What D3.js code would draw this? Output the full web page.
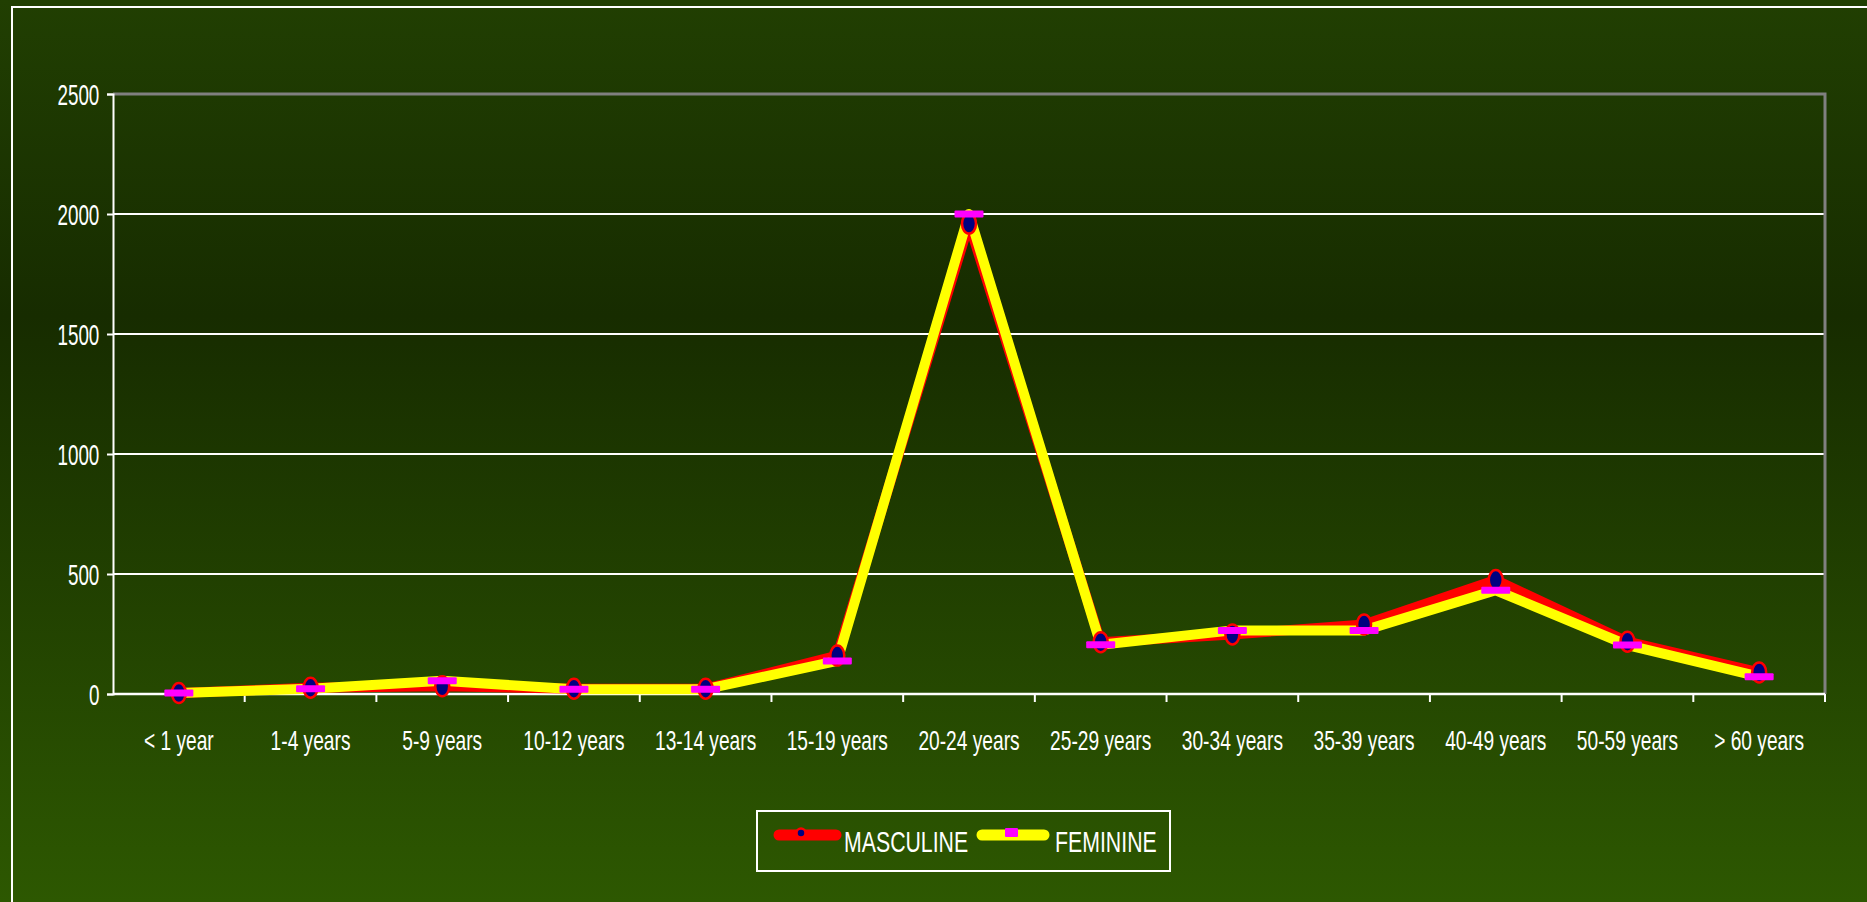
<!DOCTYPE html>
<html>
<head>
<meta charset="utf-8">
<script src="https://cdn.jsdelivr.net/npm/d3@7"></script>
<style>
  html, body { margin: 0; padding: 0; overflow: hidden; }
  body { width: 1867px; height: 902px; }
  text { font-family: "Liberation Sans", Arial, sans-serif; fill: #ffffff; }
</style>
</head>
<body>
<svg id="chart" width="1867" height="902"></svg>
<script>
// age groups and counts
var categories = ["< 1 year", "1-4 years", "5-9 years", "10-12 years", "13-14 years",
  "15-19 years", "20-24 years", "25-29 years", "30-34 years", "35-39 years",
  "40-49 years", "50-59 years", "> 60 years"];
var masculine = [4, 26, 32, 22, 22, 160, 1960, 216, 248, 290, 475, 218, 90];
var feminine = [4, 22, 55, 20, 20, 138, 2000, 205, 265, 265, 432, 204, 72];
var yTicks = [0, 500, 1000, 1500, 2000, 2500];
var seriesNames = ["MASCULINE", "FEMININE"];

var svg = d3.select("#chart");
// note: "top" is a read-only window global, so use plot* names
var plotLeft = 113, plotRight = 1825, plotTop = 94, plotBottom = 694;

// page background gradient
var defs = svg.append("defs");
var grad = defs.append("linearGradient")
    .attr("id", "bg")
    .attr("x1", 0).attr("y1", 0).attr("x2", 0).attr("y2", 1);
grad.append("stop").attr("offset", "0%").attr("stop-color", "#213f02");
grad.append("stop").attr("offset", "35%").attr("stop-color", "#172c00");
grad.append("stop").attr("offset", "100%").attr("stop-color", "#2d5801");

svg.append("rect")
    .attr("width", 1867).attr("height", 902)
    .attr("fill", "url(#bg)");

// outer frame, runs off the right and bottom edge
svg.append("rect")
    .attr("x", 12).attr("y", 7)
    .attr("width", 1900).attr("height", 950)
    .attr("fill", "none")
    .attr("stroke", "#ffffff")
    .attr("stroke-width", 2);

var x = d3.scaleBand().domain(categories).range([plotLeft, plotRight]);
var y = d3.scaleLinear().domain([0, 2500]).range([plotBottom, plotTop]);

// gridlines
svg.append("g")
  .selectAll("line")
  .data(yTicks.filter(function(d) { return d > 0 && d < 2500; }))
  .enter().append("line")
    .attr("x1", plotLeft).attr("x2", plotRight)
    .attr("y1", function(d) { return y(d); })
    .attr("y2", function(d) { return y(d); })
    .attr("stroke", "#ffffff")
    .attr("stroke-width", 2);

// grey top / right plot border
svg.append("path")
    .attr("d", "M" + plotLeft + "," + y(2500) + "H" + plotRight + "V" + y(0))
    .attr("fill", "none")
    .attr("stroke", "#808080")
    .attr("stroke-width", 3);

// y axis
var yAxis = svg.append("g")
    .attr("transform", "translate(" + plotLeft + ",0)")
    .call(d3.axisLeft(y).tickValues(yTicks).tickSize(6).tickFormat(d3.format("d")));
yAxis.select(".domain").attr("stroke", "#ffffff").attr("stroke-width", 2);
yAxis.selectAll(".tick line").attr("stroke", "#ffffff").attr("stroke-width", 2);
yAxis.selectAll(".tick text")
    .attr("x", -21)
    .attr("dy", "0.36em")
    .attr("transform", "scale(0.65,1)")
    .style("font-size", "29px")
    .style("font-family", "'Liberation Sans', Arial, sans-serif")
    .attr("fill", "#ffffff");

// x axis labels
var xAxis = svg.append("g")
    .attr("transform", "translate(0," + plotBottom + ")")
    .call(d3.axisBottom(x).tickSize(0));
xAxis.select(".domain").remove();
xAxis.selectAll(".tick text")
    .attr("y", 56)
    .attr("dy", 0)
    .attr("transform", "scale(0.71,1)")
    .style("font-size", "27px")
    .style("font-family", "'Liberation Sans', Arial, sans-serif")
    .attr("fill", "#ffffff");

// x axis line and ticks between categories
svg.append("line")
    .attr("x1", plotLeft).attr("x2", plotRight)
    .attr("y1", plotBottom).attr("y2", plotBottom)
    .attr("stroke", "#ffffff").attr("stroke-width", 2.5);
svg.append("g")
  .selectAll("line")
  .data(categories.slice(1).map(function(c) { return x(c); }).concat([plotRight]))
  .enter().append("line")
    .attr("x1", function(d) { return d; })
    .attr("x2", function(d) { return d; })
    .attr("y1", plotBottom).attr("y2", plotBottom + 8)
    .attr("stroke", "#ffffff").attr("stroke-width", 2);

var cx = function(d, i) { return x(categories[i]) + x.bandwidth() / 2; };
var line = d3.line()
    .x(function(d, i) { return cx(d, i); })
    .y(function(d) { return y(d); });

svg.append("path")
    .datum(masculine)
    .attr("d", line)
    .attr("fill", "none")
    .attr("stroke", "#ff0000")
    .attr("stroke-width", 10)
    .attr("stroke-linejoin", "round");

svg.append("path")
    .datum(feminine)
    .attr("d", line)
    .attr("fill", "none")
    .attr("stroke", "#ffff00")
    .attr("stroke-width", 10)
    .attr("stroke-linejoin", "round");

svg.append("g")
  .selectAll("ellipse")
  .data(masculine)
  .enter().append("ellipse")
    .attr("cx", cx)
    .attr("cy", function(d) { return y(d); })
    .attr("rx", 7).attr("ry", 10)
    .attr("fill", "#000080")
    .attr("stroke", "#ff0000")
    .attr("stroke-width", 2.5);

svg.append("g")
  .selectAll("rect")
  .data(feminine)
  .enter().append("rect")
    .attr("x", function(d, i) { return cx(d, i) - 14.5; })
    .attr("y", function(d) { return y(d) - 3.5; })
    .attr("width", 29).attr("height", 7)
    .attr("rx", 1)
    .attr("fill", "#ff00ff");

// legend
var legend = svg.append("g");
legend.append("rect")
    .attr("x", 757).attr("y", 811)
    .attr("width", 413).attr("height", 60)
    .attr("fill", "none")
    .attr("stroke", "#ffffff")
    .attr("stroke-width", 2);

legend.append("line")
    .attr("x1", 779).attr("x2", 836)
    .attr("y1", 835).attr("y2", 835)
    .attr("stroke", "#ff0000").attr("stroke-width", 11)
    .attr("stroke-linecap", "round");
legend.append("circle")
    .attr("cx", 801).attr("cy", 833)
    .attr("r", 4.5)
    .attr("fill", "#000080")
    .attr("stroke", "#ff0000").attr("stroke-width", 2.5);
legend.append("text")
    .attr("x", 844 / 0.71).attr("y", 852)
    .attr("transform", "scale(0.71,1)")
    .style("font-size", "30px")
    .text(seriesNames[0]);

legend.append("line")
    .attr("x1", 982).attr("x2", 1044)
    .attr("y1", 835).attr("y2", 835)
    .attr("stroke", "#ffff00").attr("stroke-width", 11)
    .attr("stroke-linecap", "round");
legend.append("rect")
    .attr("x", 1005).attr("y", 828)
    .attr("width", 13).attr("height", 9)
    .attr("rx", 1)
    .attr("fill", "#ff00ff");
legend.append("text")
    .attr("x", 1055 / 0.71).attr("y", 852)
    .attr("transform", "scale(0.71,1)")
    .style("font-size", "30px")
    .text(seriesNames[1]);
</script>
</body>
</html>
